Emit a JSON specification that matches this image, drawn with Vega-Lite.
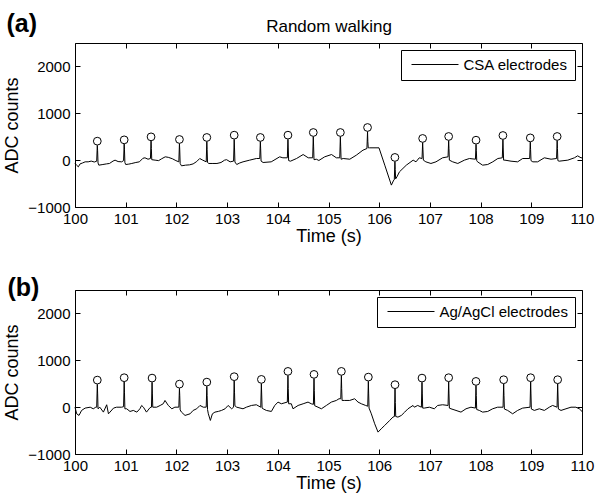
{
"$schema": "https://vega.github.io/schema/vega-lite/v6.json",
"padding": {"left": 3, "top": 10, "right": 0, "bottom": 0},
"bounds": "flush",
"spacing": 83,
"config": {
 "font": "Liberation Sans",
 "view": {"stroke": "black", "strokeWidth": 1},
 "axis": {"grid": false, "domain": false, "tickColor": "black", "tickSize": -5, "tickWidth": 1, "labelColor": "black", "labelFontSize": 15, "labelFont": "Liberation Sans", "labelFlush": false, "labelOverlap": false, "titleFont": "Liberation Sans", "titleFontSize": 18, "titleFontWeight": "normal", "titleColor": "black"},
 "axisX": {"labelPadding": 9},
 "axisY": {"labelPadding": 10},
 "legend": {"orient": "top-right", "offset": 7, "strokeColor": "black", "fillColor": "white", "padding": 7, "cornerRadius": 0, "symbolType": "M-4,0H4", "symbolSize": 138, "symbolOffset": 19.5, "symbolStrokeWidth": 1, "symbolStrokeColor": "black", "symbolFillColor": "transparent", "labelFontSize": 15, "labelFont": "Liberation Sans", "labelColor": "black", "labelOffset": 21}
},
"resolve": {"scale": {"color": "independent"}},
"datasets": {
 "a": [{"t":100.000,"v":-71},{"t":100.030,"v":-107},{"t":100.066,"v":-142},{"t":100.100,"v":-80},{"t":100.150,"v":-60},{"t":100.200,"v":-36},{"t":100.260,"v":-36},{"t":100.320,"v":-20},{"t":100.380,"v":-40},{"t":100.428,"v":-22},{"t":100.440,"v":315},{"t":100.446,"v":200},{"t":100.454,"v":-60},{"t":100.470,"v":-107},{"t":100.550,"v":-93},{"t":100.620,"v":-80},{"t":100.680,"v":-71},{"t":100.750,"v":-20},{"t":100.790,"v":0},{"t":100.850,"v":-30},{"t":100.920,"v":-36},{"t":100.958,"v":-10},{"t":100.970,"v":343},{"t":100.976,"v":220},{"t":100.984,"v":-50},{"t":101.000,"v":-93},{"t":101.060,"v":-85},{"t":101.120,"v":-71},{"t":101.200,"v":-50},{"t":101.270,"v":-36},{"t":101.340,"v":40},{"t":101.380,"v":50},{"t":101.440,"v":20},{"t":101.488,"v":35},{"t":101.500,"v":407},{"t":101.506,"v":250},{"t":101.514,"v":10},{"t":101.580,"v":0},{"t":101.650,"v":-10},{"t":101.710,"v":30},{"t":101.780,"v":71},{"t":101.840,"v":60},{"t":101.920,"v":30},{"t":101.990,"v":-10},{"t":102.048,"v":-36},{"t":102.060,"v":351},{"t":102.066,"v":220},{"t":102.074,"v":-70},{"t":102.100,"v":-121},{"t":102.180,"v":-107},{"t":102.260,"v":-100},{"t":102.330,"v":-80},{"t":102.400,"v":-30},{"t":102.460,"v":35},{"t":102.520,"v":0},{"t":102.588,"v":-36},{"t":102.600,"v":394},{"t":102.606,"v":230},{"t":102.614,"v":-50},{"t":102.640,"v":-71},{"t":102.720,"v":-71},{"t":102.800,"v":-71},{"t":102.880,"v":-50},{"t":102.950,"v":0},{"t":102.990,"v":10},{"t":103.060,"v":-36},{"t":103.128,"v":-20},{"t":103.140,"v":443},{"t":103.146,"v":260},{"t":103.154,"v":-40},{"t":103.190,"v":-93},{"t":103.250,"v":-60},{"t":103.314,"v":-36},{"t":103.445,"v":0},{"t":103.577,"v":35},{"t":103.644,"v":35},{"t":103.656,"v":394},{"t":103.662,"v":240},{"t":103.670,"v":-20},{"t":103.710,"v":-50},{"t":103.870,"v":-36},{"t":104.037,"v":71},{"t":104.100,"v":50},{"t":104.188,"v":50},{"t":104.200,"v":443},{"t":104.206,"v":260},{"t":104.214,"v":-10},{"t":104.250,"v":-22},{"t":104.370,"v":35},{"t":104.500,"v":120},{"t":104.600,"v":50},{"t":104.688,"v":50},{"t":104.700,"v":500},{"t":104.706,"v":300},{"t":104.714,"v":10},{"t":104.760,"v":20},{"t":104.810,"v":-7},{"t":104.925,"v":71},{"t":105.060,"v":120},{"t":105.155,"v":50},{"t":105.222,"v":50},{"t":105.234,"v":500},{"t":105.240,"v":300},{"t":105.248,"v":20},{"t":105.290,"v":35},{"t":105.420,"v":20},{"t":105.550,"v":107},{"t":105.680,"v":213},{"t":105.758,"v":248},{"t":105.770,"v":607},{"t":105.776,"v":400},{"t":105.784,"v":263},{"t":105.810,"v":263},{"t":105.996,"v":263},{"t":106.110,"v":-107},{"t":106.240,"v":-533},{"t":106.286,"v":-427},{"t":106.298,"v":-420},{"t":106.310,"v":-32},{"t":106.316,"v":-200},{"t":106.324,"v":-400},{"t":106.350,"v":-356},{"t":106.400,"v":-249},{"t":106.535,"v":-107},{"t":106.670,"v":0},{"t":106.726,"v":-36},{"t":106.790,"v":50},{"t":106.845,"v":35},{"t":106.857,"v":373},{"t":106.863,"v":220},{"t":106.871,"v":0},{"t":106.920,"v":-36},{"t":107.020,"v":-71},{"t":107.120,"v":-36},{"t":107.250,"v":50},{"t":107.358,"v":71},{"t":107.370,"v":415},{"t":107.376,"v":250},{"t":107.384,"v":0},{"t":107.450,"v":-36},{"t":107.550,"v":-71},{"t":107.680,"v":0},{"t":107.780,"v":35},{"t":107.898,"v":20},{"t":107.910,"v":336},{"t":107.916,"v":200},{"t":107.924,"v":-10},{"t":107.940,"v":-36},{"t":108.040,"v":-107},{"t":108.140,"v":-93},{"t":108.240,"v":-36},{"t":108.340,"v":35},{"t":108.428,"v":50},{"t":108.440,"v":436},{"t":108.446,"v":260},{"t":108.454,"v":0},{"t":108.480,"v":0},{"t":108.600,"v":-22},{"t":108.730,"v":-36},{"t":108.830,"v":35},{"t":108.968,"v":35},{"t":108.980,"v":385},{"t":108.986,"v":230},{"t":108.994,"v":-10},{"t":109.030,"v":-36},{"t":109.125,"v":-36},{"t":109.257,"v":50},{"t":109.390,"v":20},{"t":109.498,"v":35},{"t":109.510,"v":415},{"t":109.516,"v":250},{"t":109.524,"v":-10},{"t":109.550,"v":-22},{"t":109.720,"v":0},{"t":109.850,"v":50},{"t":109.914,"v":92},{"t":109.980,"v":50},{"t":110.000,"v":50}],
 "b": [{"t":100.000,"v":-1},{"t":100.033,"v":-142},{"t":100.079,"v":-177},{"t":100.130,"v":-70},{"t":100.200,"v":-20},{"t":100.300,"v":-1},{"t":100.360,"v":-35},{"t":100.410,"v":-1},{"t":100.428,"v":0},{"t":100.440,"v":487},{"t":100.446,"v":300},{"t":100.454,"v":-35},{"t":100.490,"v":-1},{"t":100.560,"v":-106},{"t":100.625,"v":51},{"t":100.660,"v":-142},{"t":100.690,"v":-106},{"t":100.760,"v":-20},{"t":100.820,"v":-1},{"t":100.920,"v":-1},{"t":100.958,"v":10},{"t":100.970,"v":538},{"t":100.976,"v":320},{"t":100.984,"v":-35},{"t":101.020,"v":-35},{"t":101.085,"v":-92},{"t":101.150,"v":-70},{"t":101.220,"v":-106},{"t":101.280,"v":-35},{"t":101.315,"v":36},{"t":101.350,"v":-1},{"t":101.410,"v":-106},{"t":101.480,"v":-10},{"t":101.508,"v":0},{"t":101.520,"v":530},{"t":101.526,"v":300},{"t":101.534,"v":-1},{"t":101.610,"v":-1},{"t":101.680,"v":36},{"t":101.740,"v":72},{"t":101.775,"v":143},{"t":101.840,"v":36},{"t":101.910,"v":-35},{"t":101.970,"v":-1},{"t":102.048,"v":0},{"t":102.060,"v":401},{"t":102.066,"v":250},{"t":102.074,"v":-60},{"t":102.100,"v":-106},{"t":102.170,"v":-177},{"t":102.270,"v":-142},{"t":102.330,"v":-70},{"t":102.400,"v":-35},{"t":102.465,"v":36},{"t":102.530,"v":-1},{"t":102.588,"v":0},{"t":102.600,"v":444},{"t":102.606,"v":250},{"t":102.614,"v":-50},{"t":102.630,"v":-142},{"t":102.670,"v":-284},{"t":102.710,"v":-142},{"t":102.760,"v":-106},{"t":102.830,"v":-90},{"t":102.890,"v":-70},{"t":102.960,"v":-35},{"t":103.020,"v":36},{"t":103.090,"v":-35},{"t":103.128,"v":0},{"t":103.140,"v":560},{"t":103.146,"v":320},{"t":103.154,"v":30},{"t":103.190,"v":-1},{"t":103.314,"v":-35},{"t":103.380,"v":-1},{"t":103.480,"v":36},{"t":103.577,"v":51},{"t":103.664,"v":-1},{"t":103.676,"v":502},{"t":103.682,"v":280},{"t":103.690,"v":-20},{"t":103.710,"v":-35},{"t":103.774,"v":-70},{"t":103.873,"v":-92},{"t":103.940,"v":36},{"t":104.004,"v":108},{"t":104.070,"v":72},{"t":104.188,"v":108},{"t":104.200,"v":673},{"t":104.206,"v":400},{"t":104.214,"v":72},{"t":104.267,"v":72},{"t":104.300,"v":-35},{"t":104.400,"v":36},{"t":104.500,"v":72},{"t":104.596,"v":108},{"t":104.660,"v":72},{"t":104.702,"v":60},{"t":104.714,"v":609},{"t":104.720,"v":350},{"t":104.728,"v":30},{"t":104.793,"v":-1},{"t":104.860,"v":-35},{"t":104.958,"v":36},{"t":105.056,"v":108},{"t":105.155,"v":143},{"t":105.207,"v":179},{"t":105.242,"v":179},{"t":105.254,"v":673},{"t":105.260,"v":400},{"t":105.268,"v":143},{"t":105.320,"v":143},{"t":105.418,"v":143},{"t":105.516,"v":179},{"t":105.582,"v":108},{"t":105.648,"v":72},{"t":105.733,"v":36},{"t":105.774,"v":20},{"t":105.786,"v":551},{"t":105.792,"v":300},{"t":105.800,"v":-20},{"t":105.845,"v":-142},{"t":105.911,"v":-355},{"t":105.977,"v":-533},{"t":106.040,"v":-462},{"t":106.108,"v":-391},{"t":106.207,"v":-284},{"t":106.270,"v":-213},{"t":106.300,"v":-200},{"t":106.312,"v":389},{"t":106.318,"v":100},{"t":106.326,"v":-200},{"t":106.370,"v":-213},{"t":106.437,"v":-177},{"t":106.503,"v":-106},{"t":106.568,"v":-35},{"t":106.667,"v":36},{"t":106.693,"v":-1},{"t":106.760,"v":36},{"t":106.832,"v":-1},{"t":106.844,"v":530},{"t":106.850,"v":300},{"t":106.858,"v":-20},{"t":106.890,"v":-20},{"t":106.990,"v":-1},{"t":107.087,"v":-35},{"t":107.153,"v":36},{"t":107.250,"v":51},{"t":107.358,"v":36},{"t":107.370,"v":538},{"t":107.376,"v":300},{"t":107.384,"v":-20},{"t":107.416,"v":-35},{"t":107.515,"v":-70},{"t":107.613,"v":-106},{"t":107.712,"v":-35},{"t":107.810,"v":-1},{"t":107.897,"v":-20},{"t":107.909,"v":459},{"t":107.915,"v":250},{"t":107.923,"v":-50},{"t":107.975,"v":-70},{"t":108.040,"v":-106},{"t":108.140,"v":-92},{"t":108.238,"v":-35},{"t":108.336,"v":-1},{"t":108.443,"v":-1},{"t":108.455,"v":495},{"t":108.461,"v":250},{"t":108.469,"v":-40},{"t":108.534,"v":-70},{"t":108.632,"v":-142},{"t":108.730,"v":-70},{"t":108.830,"v":-20},{"t":108.975,"v":-1},{"t":108.987,"v":538},{"t":108.993,"v":300},{"t":109.001,"v":-40},{"t":109.060,"v":-70},{"t":109.158,"v":-35},{"t":109.257,"v":-70},{"t":109.355,"v":-1},{"t":109.420,"v":36},{"t":109.508,"v":-1},{"t":109.520,"v":495},{"t":109.526,"v":280},{"t":109.534,"v":-40},{"t":109.586,"v":-70},{"t":109.684,"v":-35},{"t":109.783,"v":-1},{"t":109.880,"v":-1},{"t":109.947,"v":-35},{"t":110.000,"v":-92}],
 "pa": [{"t":100.44,"v":405},{"t":100.97,"v":433},{"t":101.50,"v":497},{"t":102.06,"v":441},{"t":102.60,"v":484},{"t":103.14,"v":533},{"t":103.656,"v":484},{"t":104.20,"v":533},{"t":104.70,"v":590},{"t":105.234,"v":590},{"t":105.77,"v":697},{"t":106.31,"v":58},{"t":106.857,"v":463},{"t":107.37,"v":505},{"t":107.91,"v":426},{"t":108.44,"v":526},{"t":108.98,"v":475},{"t":109.51,"v":505}],
 "pb": [{"t":100.44,"v":577},{"t":100.97,"v":628},{"t":101.52,"v":620},{"t":102.06,"v":491},{"t":102.60,"v":534},{"t":103.14,"v":650},{"t":103.676,"v":592},{"t":104.20,"v":763},{"t":104.714,"v":699},{"t":105.254,"v":763},{"t":105.786,"v":641},{"t":106.312,"v":479},{"t":106.844,"v":620},{"t":107.37,"v":628},{"t":107.909,"v":549},{"t":108.455,"v":585},{"t":108.987,"v":628},{"t":109.52,"v":585}]
},
"vconcat": [
 {
  "width": 507, "height": 164,
  "resolve": {"axis": {"x": "independent", "y": "independent"}},
  "layer": [
   {
    "data": {"name": "a"},
    "mark": {"type": "line", "strokeWidth": 1, "interpolate": "linear"},
    "encoding": {
     "x": {"field": "t", "type": "quantitative", "scale": {"domain": [100, 110], "nice": false, "zero": false}, "axis": {"orient": "bottom", "values": [100,101,102,103,104,105,106,107,108,109,110], "format": "d", "title": "Time (s)", "titlePadding": 1}},
     "y": {"field": "v", "type": "quantitative", "scale": {"domain": [-1000, 2500], "nice": false, "zero": false}, "axis": {"orient": "left", "values": [-1000, 0, 1000, 2000], "format": "d", "title": "ADC counts", "titlePadding": 6}},
     "color": {"datum": "CSA electrodes", "type": "nominal", "scale": {"range": ["black"]}, "legend": {"title": null}}
    }
   },
   {
    "data": {"name": "pa"},
    "mark": {"type": "point", "shape": "circle", "filled": false, "stroke": "black", "strokeWidth": 1, "size": 60, "opacity": 1},
    "encoding": {
     "x": {"field": "t", "type": "quantitative", "scale": {"domain": [100, 110], "nice": false, "zero": false}, "axis": {"orient": "top", "values": [100,101,102,103,104,105,106,107,108,109,110], "labels": false, "title": "Random walking", "titleFontSize": 17, "titleBaseline": "alphabetic", "titlePadding": 11}},
     "y": {"field": "v", "type": "quantitative", "scale": {"domain": [-1000, 2500], "nice": false, "zero": false}, "axis": {"orient": "right", "values": [-1000, 0, 1000, 2000], "labels": false, "title": "(a)", "titleAngle": 0, "titleX": -576, "titleY": -12, "titleAlign": "left", "titleBaseline": "alphabetic", "titleFontSize": 25, "titleFontWeight": "bold"}}
    }
   }
  ]
 },
 {
  "width": 507, "height": 164,
  "resolve": {"axis": {"x": "independent", "y": "independent"}},
  "layer": [
   {
    "data": {"name": "b"},
    "mark": {"type": "line", "strokeWidth": 1, "interpolate": "linear"},
    "encoding": {
     "x": {"field": "t", "type": "quantitative", "scale": {"domain": [100, 110], "nice": false, "zero": false}, "axis": {"orient": "bottom", "values": [100,101,102,103,104,105,106,107,108,109,110], "format": "d", "title": "Time (s)", "titlePadding": 1}},
     "y": {"field": "v", "type": "quantitative", "scale": {"domain": [-1000, 2500], "nice": false, "zero": false}, "axis": {"orient": "left", "values": [-1000, 0, 1000, 2000], "format": "d", "title": "ADC counts", "titlePadding": 6}},
     "color": {"datum": "Ag/AgCl electrodes", "type": "nominal", "scale": {"range": ["black"]}, "legend": {"title": null}}
    }
   },
   {
    "data": {"name": "pb"},
    "mark": {"type": "point", "shape": "circle", "filled": false, "stroke": "black", "strokeWidth": 1, "size": 60, "opacity": 1},
    "encoding": {
     "x": {"field": "t", "type": "quantitative", "scale": {"domain": [100, 110], "nice": false, "zero": false}, "axis": {"orient": "top", "values": [100,101,102,103,104,105,106,107,108,109,110], "labels": false, "title": null}},
     "y": {"field": "v", "type": "quantitative", "scale": {"domain": [-1000, 2500], "nice": false, "zero": false}, "axis": {"orient": "right", "values": [-1000, 0, 1000, 2000], "labels": false, "title": "(b)", "titleAngle": 0, "titleX": -575, "titleY": 5, "titleAlign": "left", "titleBaseline": "alphabetic", "titleFontSize": 25, "titleFontWeight": "bold"}}
    }
   }
  ]
 }
]
}
